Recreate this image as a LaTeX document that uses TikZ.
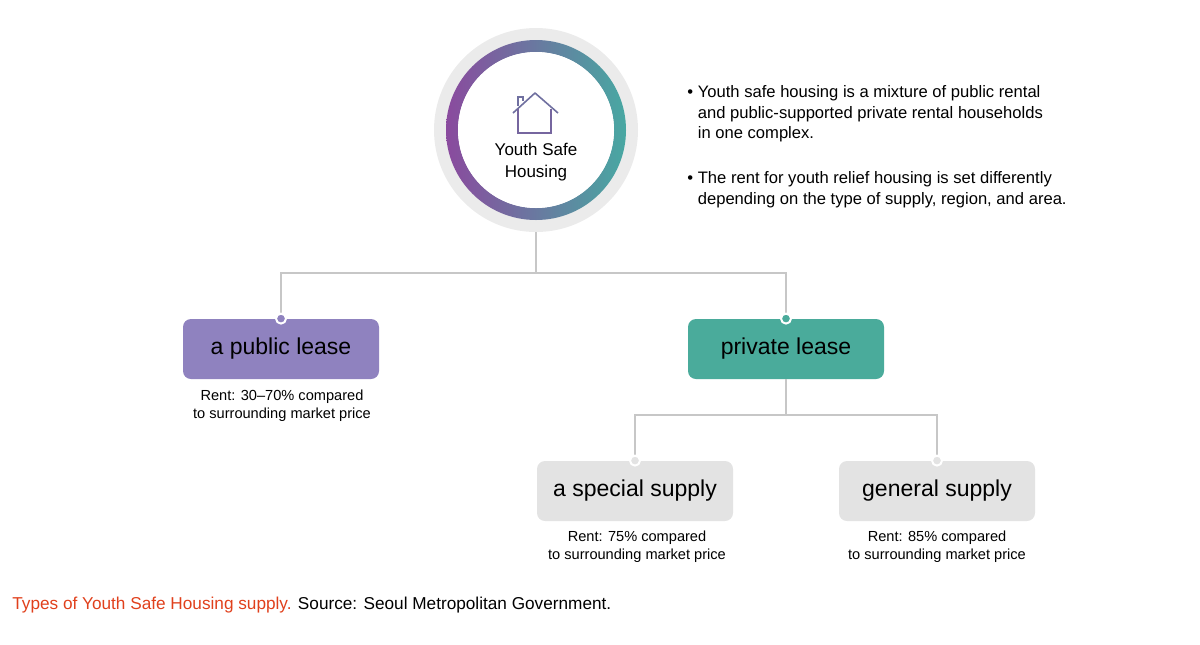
\documentclass[tikz,border=0pt]{standalone}
\usepackage{fontspec}
\setmainfont{Liberation Sans}
\begin{document}
\begin{tikzpicture}[x=0.5pt,y=-0.5pt,
  conn/.style={draw=black!22,line width=1pt},
  box/.style={rounded corners=4pt,minimum width=98pt,minimum height=30pt,inner sep=0pt,font=\fontsize{11.5}{13}\selectfont},
  dot/.style={circle,fill=#1,draw=white,line width=1pt,minimum size=5pt,inner sep=0pt},
  rent/.style={align=center,font=\fontsize{7.3}{9}\selectfont},
  bul/.style={anchor=north west,align=left,font=\fontsize{8.3}{10.3}\selectfont,inner sep=0pt}]
\definecolor{pub}{HTML}{8F82BF}
\definecolor{priv}{HTML}{4AAB9B}
\definecolor{pur}{HTML}{8A4A9E}
\definecolor{tea}{HTML}{48A8A2}
\definecolor{cap}{HTML}{E0401C}
\useasboundingbox (0,0) rectangle (1200,644);
% circle
\fill[black!8] (536,130) circle (102);
\shade[left color=pur,right color=tea,even odd rule] (536,130) circle (90) (536,130) circle (78);
\fill[white] (536,130) circle (78);
% house
\draw[pur!60!tea,line width=0.8pt,line join=round] (513,113) -- (535,93) -- (558,113);
\draw[pur!70!tea,line width=0.8pt] (518,109) -- (518,133) -- (551,133) -- (551,109);
\draw[pur!60!tea,line width=0.8pt] (518,106) -- (518,97) -- (523,97) -- (523,101);
\node[align=center,font=\fontsize{8.5}{11}\selectfont] (ysh) at (536,162) {Youth Safe\\Housing};
\coordinate (cbot) at (536,232);
% boxes
\node[box,fill=pub] (pubn) at (281,349) {a public lease};
\node[box,fill=priv] (privn) at (786,349) {private lease};
\node[box,fill=black!11] (spec) at (635,491) {a special supply};
\node[box,fill=black!11] (gen) at (937,491) {general supply};
% connectors
\coordinate (j1) at (536,273);
\draw[conn] (cbot) -- (j1);
\draw[conn] (pubn.north) -- (pubn.north |- j1) -- (privn.north |- j1) -- (privn.north);
\coordinate (j2) at (786,415);
\draw[conn] (privn.south) -- (j2);
\draw[conn] (spec.north) -- (spec.north |- j2) -- (gen.north |- j2) -- (gen.north);
\node[dot=pub] at (pubn.north) {};
\node[dot=priv] at (privn.north) {};
\node[dot=black!11] at (spec.north) {};
\node[dot=black!11] at (gen.north) {};
% rent texts
\node[rent] (r1) at (282,406) {Rent: 30–70\% compared\\to surrounding market price};
\node[rent] (r2) at (637,547) {Rent: 75\% compared\\to surrounding market price};
\node[rent] (r3) at (937,547) {Rent: 85\% compared\\to surrounding market price};
% bullets
\node[bul] (b1) at (687,85) {\textbullet\ Youth safe housing is a mixture of public rental\\\phantom{\textbullet\ }and public-supported private rental households\\\phantom{\textbullet\ }in one complex.};
\node[bul] (b2) at (687,171) {\textbullet\ The rent for youth relief housing is set differently\\\phantom{\textbullet\ }depending on the type of supply, region, and area.};
% caption
\node[anchor=west,inner sep=0pt,font=\fontsize{8.6}{10}\selectfont] (capt) at (12,605) {\textcolor{cap}{Types of Youth Safe Housing supply.} Source: Seoul Metropolitan Government.};
\end{tikzpicture}
\end{document}
